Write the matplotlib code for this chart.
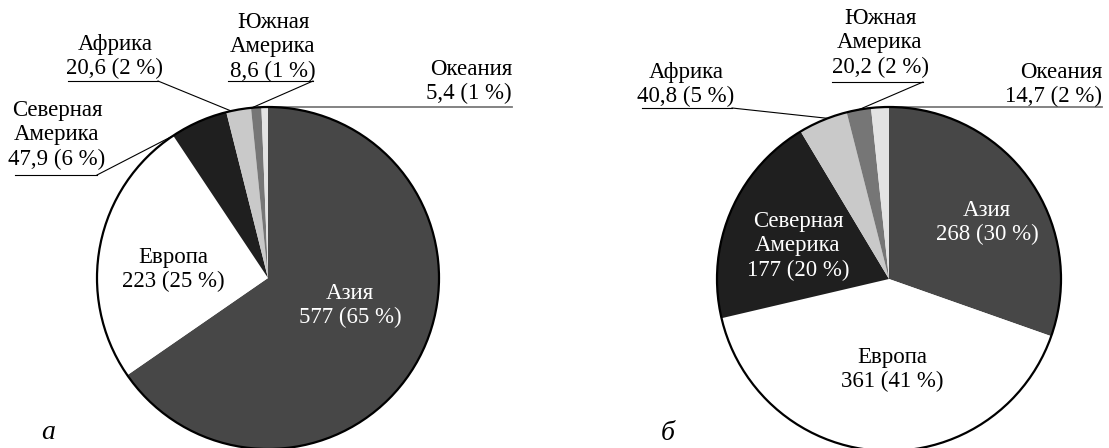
import numpy as np
import matplotlib.pyplot as plt
from matplotlib.patches import Circle

plt.rcParams['font.family'] = ['Liberation Serif', 'DejaVu Serif']

names = ["Азия", "Европа", "Северная\nАмерика", "Африка", "Южная\nАмерика", "Океания"]
values_a = [577, 223, 47.9, 20.6, 8.6, 5.4]
shares_a = [65, 25, 6, 2, 1, 1]
values_b = [268, 361, 177, 40.8, 20.2, 14.7]
shares_b = [30, 41, 20, 5, 2, 2]
colors = ["#474747", "#ffffff", "#1f1f1f", "#c9c9c9", "#767676", "#e3e3e3"]

W, H = 1109, 448
FS = 16.5
LS = 1.22

fig = plt.figure(figsize=(W / 100, H / 100), dpi=100)
ax = fig.add_axes([0, 0, 1, 1])


def fmt(v):
    return f"{v:g}".replace(".", ",")


def draw_pie(values, shares, center, r, layout):
    # center / layout given in pixel coords from the top-left
    cx, cy = center[0], H - center[1]
    wedges, _ = ax.pie(values, colors=colors, startangle=90, counterclock=False,
                       center=(cx, cy), radius=r, wedgeprops=dict(linewidth=0))
    ax.add_patch(Circle((cx, cy), r, fill=False, ec="black", lw=1.6, zorder=3))

    for i, w in enumerate(wedges):
        label = f"{names[i]}\n{fmt(values[i])} ({shares[i]} %)"
        kind, tx, ty, opt = layout[i]
        if kind == "in":
            ax.text(tx, H - ty, label, ha="center", va="center", fontsize=FS,
                    color=opt, linespacing=LS, zorder=4)
        elif kind == "out":
            x0, x1, yl, t = opt
            ax.text(tx, H - ty, label, ha="center", va="center", fontsize=FS,
                    linespacing=LS, zorder=4)
            ang = np.deg2rad(w.theta2 - t * (w.theta2 - w.theta1))
            px, py = cx + r * np.cos(ang), cy + r * np.sin(ang)
            ax.plot([x0, x1], [H - yl, H - yl], color="black", lw=0.8, zorder=4)
            ax.plot([x1, px], [H - yl, py], color="black", lw=0.8, zorder=4)
        else:  # right-aligned label with a horizontal line from the pie top
            ax.text(tx, H - ty, label, ha="right", va="center", fontsize=FS,
                    multialignment="right", linespacing=LS, zorder=4)
            ang = np.deg2rad(w.theta2 - opt * (w.theta2 - w.theta1))
            px, py = cx + r * np.cos(ang), cy + r * np.sin(ang)
            ax.plot([px, tx], [py, py], color="#7a7a7a", lw=1.3, zorder=2)


layout_a = [
    ("in", 350, 305.5, "white"),
    ("in", 173, 269.5, "black"),
    ("out", 57, 135, (15, 97, 175, 0.0)),
    ("out", 115, 56.5, (68, 158, 81, 0.2)),
    ("out", 273, 47, (228, 313, 81, 0.1)),
    ("top", 512, 81.5, 1.0),
]
layout_b = [
    ("in", 987, 222.5, "white"),
    ("in", 892, 369.5, "black"),
    ("in", 798, 245.7, "white"),
    ("out", 686, 84.5, (642, 732, 108, 0.6)),
    ("out", 880, 42.7, (832, 923, 82, 0.5)),
    ("top", 1102, 84.5, 1.0),
]

draw_pie(values_a, shares_a, (268, 278), 171, layout_a)
draw_pie(values_b, shares_b, (889, 279), 172, layout_b)

ax.text(48, H - 432, "а", fontsize=20, style="italic", ha="center", va="center")
ax.text(668, H - 433, "б", fontsize=20, style="italic", ha="center", va="center")

ax.set_xlim(0, W)
ax.set_ylim(0, H)
ax.set_aspect("auto")
ax.axis("off")

fig.savefig("out.png", dpi=100)
